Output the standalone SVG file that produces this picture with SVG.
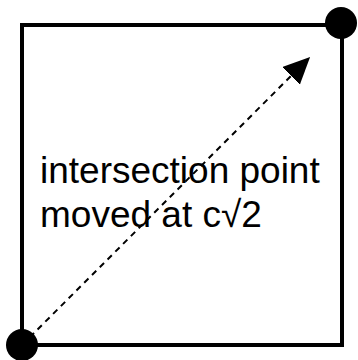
<svg xmlns="http://www.w3.org/2000/svg" width="358" height="360" viewBox="0 0 358 360">
<style>
.frame{fill:none;stroke:#000;stroke-width:4}
.dot{fill:#000}
.conn{stroke:#000;stroke-width:2;stroke-dasharray:6,5;fill:none}
.label{font-family:"Liberation Sans",Arial,sans-serif;font-size:37px;fill:#000}
</style>
<defs>
<marker id="arrow" markerUnits="userSpaceOnUse" markerWidth="28" markerHeight="26" refX="0" refY="12.5" orient="auto" viewBox="0 0 28 26">
<path d="M0,0 L27,12.5 L0,25 z" fill="#000"/>
</marker>
</defs>
<g id="square"><rect class="frame" x="22" y="25" width="320" height="320"/></g>
<g id="connectors"><line class="conn" x1="22" y1="345" x2="291" y2="76" marker-end="url(#arrow)"/></g>
<g id="label"><text class="label" x="40" y="183">intersection point</text><text class="label" x="40" y="227">moved at c√2</text></g>
<g id="corner-top-right"><circle class="dot" cx="341" cy="23" r="16"/></g>
<g id="corner-bottom-left"><circle class="dot" cx="22" cy="345" r="16"/></g>
</svg>
